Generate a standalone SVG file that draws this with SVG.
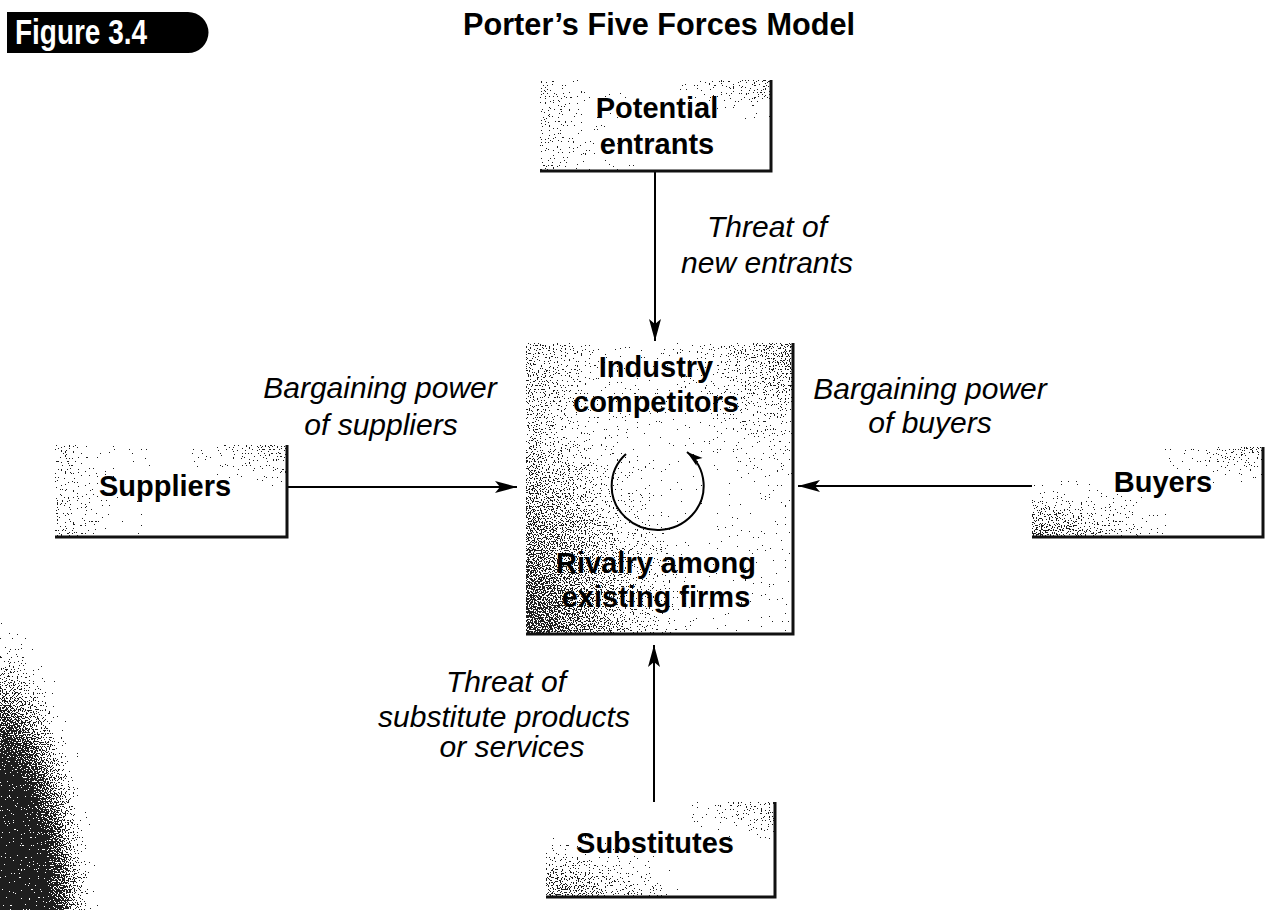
<svg xmlns="http://www.w3.org/2000/svg" width="1266" height="910" viewBox="0 0 1266 910">
<style>
  .bold { font-family: "Liberation Sans", Arial, sans-serif; font-weight: bold; font-size: 29px; fill: #000; text-anchor: middle; }
  .ital { font-family: "Liberation Sans", Arial, sans-serif; font-style: italic; font-size: 30px; fill: #000; text-anchor: middle; }
  .edge { stroke: #111; stroke-width: 3; fill: none; }
  .conn { stroke: #000; stroke-width: 2; fill: none; }
</style>
<defs>
  <filter id="stip" x="0" y="0" width="1" height="1" color-interpolation-filters="sRGB">
    <feTurbulence type="fractalNoise" baseFrequency="0.75" numOctaves="1" seed="7" result="t"/>
    <feColorMatrix in="t" type="matrix" values="2 0 0 0 -0.5  2 0 0 0 -0.5  2 0 0 0 -0.5  0 0 0 0 1" result="n"/>
    <feComponentTransfer in="SourceGraphic" result="s">
      <feFuncR type="linear" slope="0.5"/>
      <feFuncG type="linear" slope="0.5"/>
      <feFuncB type="linear" slope="0.5"/>
    </feComponentTransfer>
    <feComposite in="s" in2="n" operator="arithmetic" k1="0" k2="1" k3="-0.5" k4="0.52" result="d"/>
    <feComponentTransfer in="d">
      <feFuncR type="discrete" tableValues="0.12 1"/>
      <feFuncG type="discrete" tableValues="0.12 1"/>
      <feFuncB type="discrete" tableValues="0.12 1"/>
      <feFuncA type="linear" slope="0" intercept="1"/>
    </feComponentTransfer>
  </filter>
  <linearGradient id="gLeft" x1="0" y1="0" x2="1" y2="0">
    <stop offset="0" stop-color="#bdbdbd"/>
    <stop offset="0.25" stop-color="#ececec"/>
    <stop offset="0.5" stop-color="#fbfbfb"/>
    <stop offset="1" stop-color="#f8f8f8"/>
  </linearGradient>
  <linearGradient id="gLeftC" x1="0" y1="0" x2="1" y2="0">
    <stop offset="0" stop-color="#aaaaaa"/>
    <stop offset="0.3" stop-color="#dcdcdc"/>
    <stop offset="0.6" stop-color="#f0f0f0"/>
    <stop offset="1" stop-color="#e8e8e8"/>
  </linearGradient>
  <radialGradient id="gTR" cx="1" cy="0" r="0.5">
    <stop offset="0" stop-color="#000" stop-opacity="0.35"/>
    <stop offset="1" stop-color="#000" stop-opacity="0"/>
  </radialGradient>
  <radialGradient id="gBL" cx="0" cy="1" r="0.7">
    <stop offset="0" stop-color="#000" stop-opacity="0.5"/>
    <stop offset="1" stop-color="#000" stop-opacity="0"/>
  </radialGradient>
  <radialGradient id="gBlob" gradientUnits="userSpaceOnUse" cx="0" cy="0" r="1" gradientTransform="translate(-10 950) scale(120 370)">
    <stop offset="0" stop-color="#000"/>
    <stop offset="0.5" stop-color="#181818"/>
    <stop offset="0.7" stop-color="#888"/>
    <stop offset="0.87" stop-color="#eee"/>
    <stop offset="0.97" stop-color="#fff"/>
  </radialGradient>
  <marker id="arrow" markerUnits="userSpaceOnUse" markerWidth="24" markerHeight="14" refX="22" refY="7" orient="auto">
    <path d="M0,1 L22,7 L0,13 L5,7 Z" fill="#000"/>
  </marker>
  <marker id="arrowSm" markerUnits="userSpaceOnUse" markerWidth="18" markerHeight="12" refX="16" refY="6" orient="auto">
    <path d="M0,1 L16,6 L0,11 L4,6 Z" fill="#000"/>
  </marker>
</defs>

<rect x="0" y="0" width="1266" height="910" fill="#fff"/>

<!-- scan shadow at left edge -->
<g id="scan-shadow" filter="url(#stip)">
  <rect x="0" y="560" width="140" height="350" fill="url(#gBlob)"/>
</g>

<!-- header -->
<g id="figure-label">
  <path d="M7,12 H188 A20.5,20.5 0 0 1 188,53 H7 Z" fill="#000"/>
  <text x="15" y="44" font-family="'Liberation Sans', Arial, sans-serif" font-weight="bold" font-size="35" fill="#fff" textLength="132" lengthAdjust="spacingAndGlyphs">Figure 3.4</text>
</g>
<g id="title">
  <text x="463" y="35" font-family="'Liberation Sans', Arial, sans-serif" font-weight="bold" font-size="32" fill="#000" textLength="392" lengthAdjust="spacingAndGlyphs">Porter’s Five Forces Model</text>
</g>

<!-- connectors -->
<g id="connectors">
  <line class="conn" x1="655" y1="171" x2="655" y2="341" marker-end="url(#arrow)"/>
  <line class="conn" x1="287" y1="487" x2="517" y2="487" marker-end="url(#arrow)"/>
  <line class="conn" x1="1032" y1="486" x2="798" y2="486" marker-end="url(#arrow)"/>
  <line class="conn" x1="654" y1="802" x2="654" y2="645" marker-end="url(#arrow)"/>
</g>

<!-- connector labels -->
<g id="label-new-entrants">
  <text class="ital" x="767" y="237">Threat of</text>
  <text class="ital" x="767" y="273">new entrants</text>
</g>
<g id="label-suppliers">
  <text class="ital" x="380" y="398">Bargaining power</text>
  <text class="ital" x="381" y="435">of suppliers</text>
</g>
<g id="label-buyers">
  <text class="ital" x="930" y="399">Bargaining power</text>
  <text class="ital" x="930" y="433">of buyers</text>
</g>
<g id="label-substitutes">
  <text class="ital" x="506" y="692">Threat of</text>
  <text class="ital" x="504" y="727">substitute products</text>
  <text class="ital" x="512" y="757">or services</text>
</g>

<!-- nodes -->
<g id="node-potential-entrants">
  <g filter="url(#stip)">
    <rect x="540" y="80" width="231" height="91" fill="url(#gLeft)"/>
    <rect x="540" y="80" width="231" height="91" fill="url(#gTR)"/>
  </g>
  <polyline class="edge" points="771,80 771,171 540,171"/>
  <text class="bold" x="657" y="118">Potential</text>
  <text class="bold" x="657" y="154">entrants</text>
</g>

<g id="node-industry-competitors">
  <g filter="url(#stip)">
    <rect x="526" y="343" width="267" height="291" fill="url(#gLeftC)"/>
    <rect x="526" y="343" width="267" height="291" fill="url(#gTR)"/>
    <rect x="526" y="343" width="267" height="291" fill="url(#gBL)"/>
  </g>
  <polyline class="edge" points="793,343 793,634 526,634"/>
  <text class="bold" x="656" y="377">Industry</text>
  <text class="bold" x="656" y="412">competitors</text>
  <path class="conn" d="M626,454 A46,44 0 1 0 687,452" marker-end="url(#arrowSm)"/>
  <text class="bold" x="656" y="573">Rivalry among</text>
  <text class="bold" x="656" y="607">existing firms</text>
</g>

<g id="node-suppliers">
  <g filter="url(#stip)">
    <rect x="55" y="445" width="232" height="92" fill="url(#gLeft)"/>
    <rect x="55" y="445" width="232" height="92" fill="url(#gTR)"/>
  </g>
  <polyline class="edge" points="287,445 287,537 55,537"/>
  <text class="bold" x="165" y="496">Suppliers</text>
</g>

<g id="node-buyers">
  <g filter="url(#stip)">
    <rect x="1032" y="447" width="231" height="90" fill="#fcfcfc"/>
    <rect x="1032" y="447" width="231" height="90" fill="url(#gBL)"/>
    <rect x="1032" y="447" width="231" height="90" fill="url(#gTR)"/>
  </g>
  <polyline class="edge" points="1263,447 1263,537 1032,537"/>
  <text class="bold" x="1163" y="492">Buyers</text>
</g>

<g id="node-substitutes">
  <g filter="url(#stip)">
    <rect x="546" y="802" width="229" height="95" fill="#fcfcfc"/>
    <rect x="546" y="802" width="229" height="95" fill="url(#gBL)"/>
    <rect x="546" y="802" width="229" height="95" fill="url(#gTR)"/>
  </g>
  <polyline class="edge" points="775,802 775,897 546,897"/>
  <text class="bold" x="655" y="853">Substitutes</text>
</g>
</svg>
